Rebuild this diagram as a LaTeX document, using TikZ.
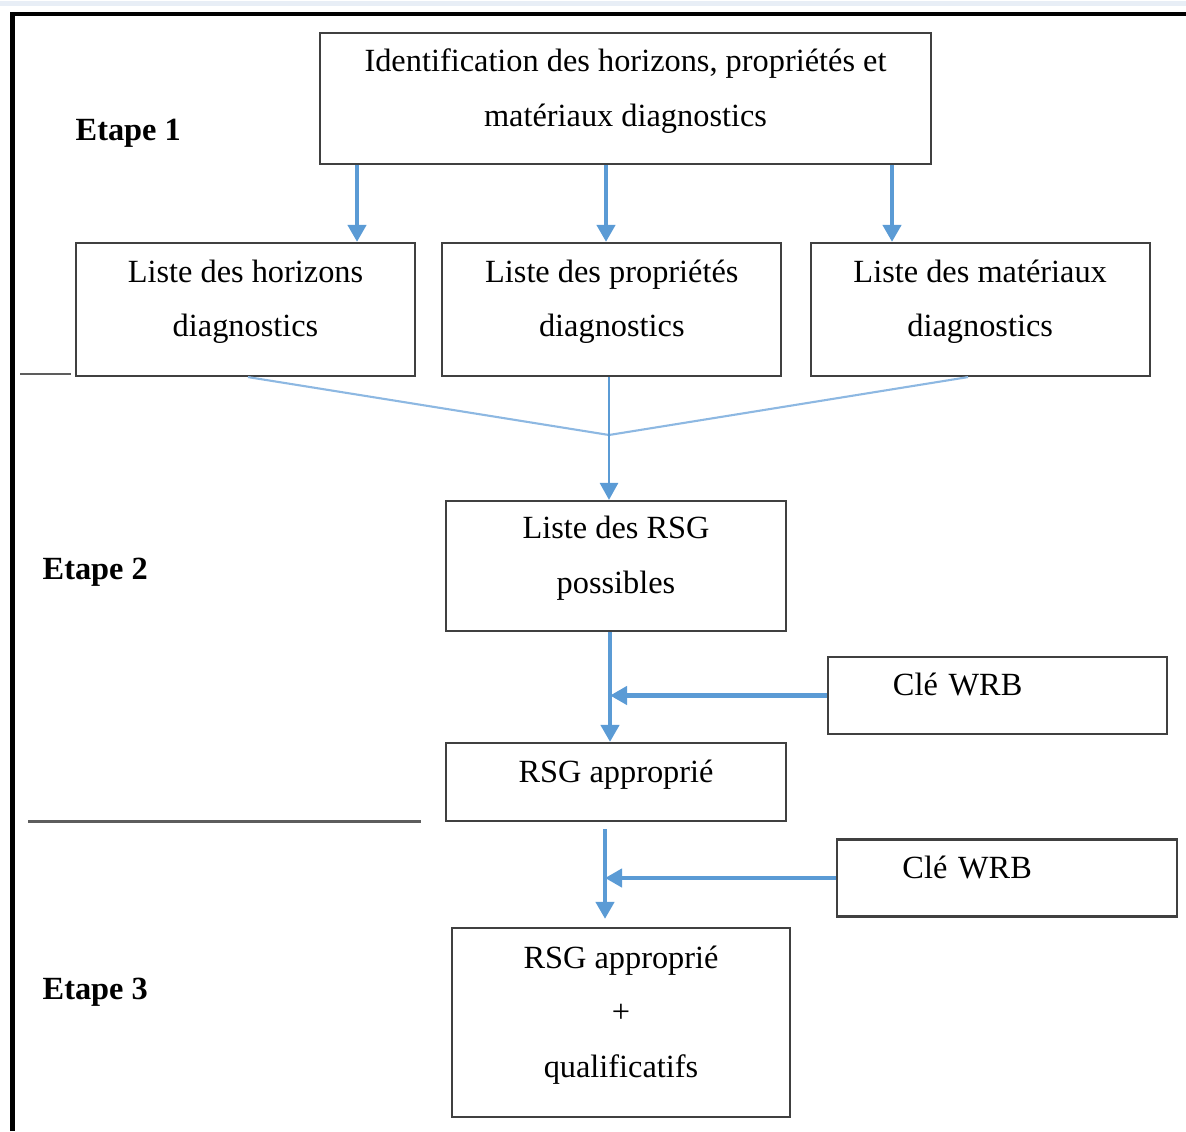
\documentclass[tikz,border=0pt]{standalone}
\usepackage{fontspec}
\setmainfont{Liberation Serif}
\usepackage{tikz}
\usetikzlibrary{positioning,arrows.meta}
\definecolor{wrbblue}{HTML}{5B9BD5}
\definecolor{thinblue}{HTML}{8DB8E2}
\definecolor{boxgray}{HTML}{404040}
\definecolor{stripgray}{HTML}{E8EEF6}
\tikzset{box/.style={draw=boxgray,line width=0.6pt,align=center,inner sep=0pt,text depth=0.22cm,
	 font=\fontsize{9.2}{15.5}\selectfont},
	 clebox/.style={box,align=left,text width=2.09cm,inner xsep=0.62cm,minimum width=3.39cm,minimum height=0.77cm},
	 etape/.style={font=\bfseries\fontsize{9.2}{11}\selectfont,inner sep=0pt,anchor=west},
	 arr/.style={draw=wrbblue,line width=1.2pt,-{Triangle[length=0.17cm,width=0.18cm]}},
	 fan/.style={draw=thinblue,line width=0.6pt},
	 sep/.style={draw=boxgray!85,line width=0.85pt},
	 frame/.style={draw=black,line width=1.4pt}
	 }

\begin{document}
\begin{tikzpicture}[x=0.01cm,y=-0.01cm] % WRB classification steps
	\useasboundingbox (0,0) rectangle (1186,1131);
	\fill[stripgray] (0,1.5) rectangle (1186,6);
	\draw[frame] (12.5,1131) -- (12.5,14) -- (1186,14);
	\node[box,minimum width=6.11cm,minimum height=1.31cm] (ident) at (625.5,98.5) {Identification des horizons, propriétés et\\matériaux diagnostics};
	\node[box,minimum width=3.39cm,minimum height=1.33cm] (hz) at (245.5,309.5) {Liste des horizons\\diagnostics};
	\node[box,minimum width=3.39cm,minimum height=1.33cm] (pr) [right=0.25cm of hz] {Liste des propriétés\\diagnostics};
	\node[box,minimum width=3.39cm,minimum height=1.33cm] (mat) [right=0.27cm of pr] {Liste des matériaux\\diagnostics};
	\node[box,minimum width=3.40cm,minimum height=1.30cm] (poss) at (616,566) {Liste des RSG\\possibles};
	\node[box,minimum width=3.40cm,minimum height=0.78cm] (appr) at (616,782) {RSG approprié};
	\node[box,minimum width=3.38cm,minimum height=1.89cm] (qual) at (621,1022.5) {RSG approprié\\+\\qualificatifs};
	\node[clebox] (cle1) at (997.5,695.5) {Clé WRB};
	\node[clebox] (cle2) at (1007,878) {Clé WRB};
	\node[etape] (e1) at (75,133) {Etape 1};
	\node[etape] (e2) at (42,572) {Etape 2};
	\node[etape] (e3) at (42,992) {Etape 3};
	\coordinate (meet) at (609,435);
	\draw[arr] (ident.south -| 357,0) -- (hz.north -| 357,0);
	\draw[arr] (ident.south -| 606,0) -- (pr.north -| 606,0);
	\draw[arr] (ident.south -| 892,0) -- (mat.north -| 892,0);
	\draw[fan] (hz.south -| 248,0) -- (meet) -- (mat.south -| 968,0);
	\draw[arr,line width=0.8pt] (pr.south -| 609,0) -- (poss.north -| 609,0);
	\draw[arr] (poss.south -| 610,0) -- (appr.north -| 610,0);
	\draw[arr] (cle1.west) -- (cle1.west -| 610,0);
	\draw[arr] ([yshift=-0.07cm]appr.south -| 605,0) -- ([yshift=0.08cm]qual.north -| 605,0);
	\draw[arr] (cle2.west) -- (cle2.west -| 605,0);
	\draw[sep] (20,374) -- (71,374);
	\draw[sep] (28,821) -- (421,821);
\end{tikzpicture}
\end{document}
